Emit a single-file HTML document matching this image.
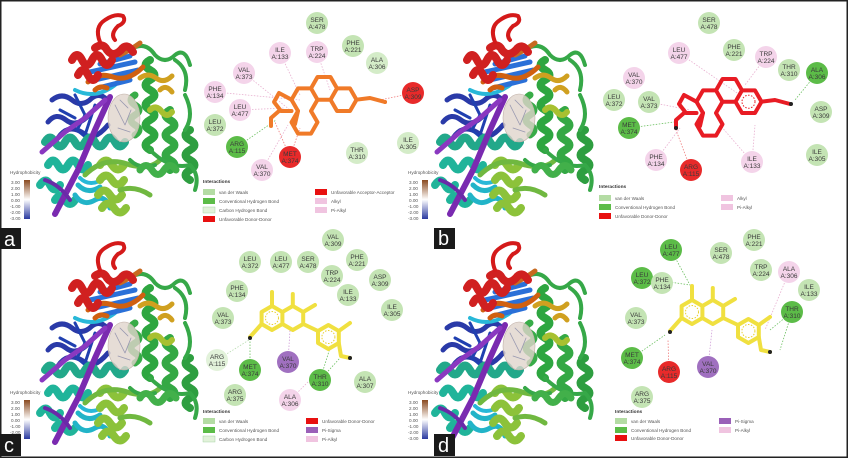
<!DOCTYPE html>
<html><head><meta charset="utf-8"><style>
html,body{margin:0;padding:0;background:#fff}
svg{display:block}
text{font-family:"Liberation Sans",sans-serif}
.r text{font-size:6.5px;fill:#3a3a3a;text-anchor:middle}
.lg{font-size:4.6px;fill:#555}
.lt{font-size:4.8px;font-weight:bold;fill:#333}
.hy{font-size:4.6px;fill:#555}
.dl{stroke-width:0.8;stroke-dasharray:1.5 1.5;fill:none}
</style></head><body>
<svg width="848" height="458" viewBox="0 0 848 458" xmlns="http://www.w3.org/2000/svg">
<defs>
<linearGradient id="hg" x1="0" y1="0" x2="0" y2="1">
<stop offset="0" stop-color="#8a4a20"/><stop offset="0.5" stop-color="#fff"/><stop offset="1" stop-color="#2a3aa0"/></linearGradient>
<g id="prot" fill="none" stroke-linecap="round" stroke-linejoin="round">
 <!-- dark blue left -->
 <path d="M52,100 q10,-8 20,0 q10,8 20,-2 q8,-6 15,2 M48,122 q8,-10 18,-2 q10,8 22,-4 M58,138 q10,-15 25,-5 q10,10 25,-8" stroke="#2a3aa8" stroke-width="5"/>
 <path d="M75,95 l10,20 l-8,15 l12,10 M95,105 l-10,30 M60,110 l15,8" stroke="#2040b0" stroke-width="3"/>
 <!-- teal helices -->
 <path d="M45,142 q5,-9 10,0 q5,9 10,0 q5,-9 10,0 q5,9 10,0 q5,-9 10,0 q5,9 10,0 q5,-9 10,0 q5,9 10,0" stroke="#22a88a" stroke-width="8"/>
 <path d="M48,165 q5,-9 10,0 q5,9 10,0 q5,-9 10,0 q5,9 10,0 M40,185 q6,-9 10,0 q5,9 10,0 M55,200 q5,-8 10,0 q5,8 10,0" stroke="#20b49a" stroke-width="8"/>
 <path d="M75,195 q8,12 20,5 q10,-6 15,8 M78,185 q10,10 22,2" stroke="#22b4c8" stroke-width="5"/>
 <path d="M75,90 q20,10 40,-5 M80,178 q10,10 25,0" stroke="#28b8d8" stroke-width="4"/>
 <!-- purple strands -->
 <path d="M55,214 L78,170 L95,130 L110,97" stroke="#7a2ab0" stroke-width="6"/>
 <path d="M42,152 L65,132 L85,118 L105,100" stroke="#8a38c0" stroke-width="5"/>
 <path d="M45,180 q15,5 25,20" stroke="#6a2aa8" stroke-width="4"/>
 <!-- blue sheet -->
 <path d="M90,72 L135,62 M95,80 L138,70 M98,88 L130,80 M100,64 L130,56" stroke="#2a70d8" stroke-width="5"/>
 <!-- light green bottom -->
 <path d="M100,165 q6,-9 12,0 q6,9 12,0 M100,180 q6,-9 12,0 q6,9 12,0 M98,195 q6,-9 12,0 q6,9 12,0 M102,208 q6,-9 12,0 q6,9 12,0" stroke="#8cc23a" stroke-width="8"/>
 <path d="M85,175 q20,-20 45,-10 q20,5 30,-5 M120,190 q15,-5 30,5" stroke="#70b840" stroke-width="5"/>
 <!-- green right helices -->
 <path d="M150,60 q-9,5 0,10 q9,5 0,10 q-9,5 0,10 q9,5 0,10 q-9,5 0,10 q9,5 0,10 q-9,5 0,10 q9,5 0,10 q-9,5 0,10" stroke="#2ea640" stroke-width="8"/>
 <path d="M170,110 q-9,5 0,10 q9,5 0,10 q-9,5 0,10 q9,5 0,10 q-9,5 0,10 q9,5 0,10" stroke="#34a844" stroke-width="8"/>
 <path d="M190,130 q-9,5 0,10 q9,5 0,10 q-9,5 0,10 q9,5 0,10 q-9,5 0,10" stroke="#2e9e40" stroke-width="8"/>
 <path d="M135,95 q-8,5 0,10 q8,5 0,10 q-8,5 0,10 q8,5 0,10" stroke="#38ac48" stroke-width="7"/>
 <path d="M130,50 q15,-10 25,5 q10,10 20,0 q10,-8 15,10 M175,60 q15,10 10,30 M150,150 q20,20 40,15 q10,10 5,25 M130,160 q10,10 25,5 M185,95 q10,20 0,35" stroke="#36a848" stroke-width="4"/>
 <path d="M140,170 q6,-9 12,0 q6,9 12,0 q6,-9 12,0" stroke="#42b04a" stroke-width="7"/>
 <!-- gold -->
 <path d="M140,78 q8,-6 16,0 q8,6 16,-2 M160,90 q6,-6 12,2" stroke="#d0a020" stroke-width="5"/>
 <path d="M150,110 q6,-6 12,2 q5,6 10,0" stroke="#a8c030" stroke-width="6"/>
 <!-- orange -->
 <path d="M88,82 q10,-10 25,-5 q15,5 30,-10 M95,90 q5,-5 12,-2" stroke="#d06010" stroke-width="5"/>
 <path d="M120,55 q12,-6 20,-12" stroke="#c86a20" stroke-width="5"/>
 <!-- red -->
 <path d="M72,60 q5,-10 10,0 q5,10 10,0 q5,-10 10,0 q5,10 10,0 M78,75 q5,-10 10,0 q5,10 10,0 M95,48 q8,-6 12,2 q6,8 14,0 q6,-8 12,2" stroke="#d02020" stroke-width="8"/>
 <path d="M100,42 q-6,-15 5,-22 q10,-7 18,-4 q4,6 -5,10 q-8,8 -3,14" stroke="#d41a1a" stroke-width="4"/>
 <!-- surface -->
 <ellipse cx="124" cy="118" rx="16" ry="24" fill="#e0d4cc" fill-opacity="0.8" stroke="#c0b0a8" stroke-width="0.6"/>
 <path d="M115,105 l10,20 l6,-15 M118,128 l12,4 M120,100 l8,8" stroke="#9898b0" stroke-width="0.8"/>
</g>
<g id="hyd">
 <text class="hy" x="10" y="174">Hydrophobicity</text>
 <rect x="24" y="180" width="6" height="39" fill="url(#hg)"/>
 <text class="hy" x="11" y="184">3.00</text><text class="hy" x="11" y="190">2.00</text><text class="hy" x="11" y="196">1.00</text><text class="hy" x="11" y="202">0.00</text><text class="hy" x="10" y="208">-1.00</text><text class="hy" x="10" y="214">-2.00</text><text class="hy" x="10" y="220">-3.00</text>
</g>
</defs>
<rect x="0.5" y="0.5" width="847" height="457" fill="#fff" stroke="#222" stroke-width="2"/>

<use href="#prot"/>
<use href="#prot" x="395"/>
<use href="#prot" y="228"/>
<use href="#prot" x="395" y="228"/>
<use href="#hyd"/>
<use href="#hyd" x="398"/>
<use href="#hyd" y="220"/>
<use href="#hyd" x="398" y="220"/>

<g font-size="20" fill="#fff" font-family="Liberation Sans">
<rect x="0" y="228" width="21" height="21" fill="#1a1a1a"/><text x="4" y="246">a</text>
<rect x="434" y="228" width="21" height="21" fill="#1a1a1a"/><text x="438" y="245">b</text>
<rect x="0" y="434" width="21" height="22" fill="#1a1a1a"/><text x="4" y="452">c</text>
<rect x="434" y="434" width="21" height="22" fill="#1a1a1a"/><text x="438" y="452">d</text>
</g>

<!-- ========== PANEL A ========== -->
<g class="dl">
<path d="M237,147 L276,120" stroke="#6cc060"/>
<path d="M290,157 L275,122 M290,157 L300,128" stroke="#f08080"/>
<path d="M413,93 L380,100" stroke="#f08080"/>
<path d="M244,73 L290,110 M215,92 L300,100 M280,53 L300,95 M317,52 L330,90 M240,110 L285,108 M262,170 L288,125" stroke="#e8b0d0"/>
</g>
<g class="r">
<circle cx="317" cy="23" r="11" fill="#c4e4b4"/><text x="317" y="22">SER</text><text x="317" y="29">A:478</text>
<circle cx="280" cy="53" r="11" fill="#f4d4ea"/><text x="280" y="52">ILE</text><text x="280" y="59">A:133</text>
<circle cx="317" cy="52" r="11" fill="#f4d4ea"/><text x="317" y="51">TRP</text><text x="317" y="58">A:224</text>
<circle cx="353" cy="46" r="11" fill="#c4e4b4"/><text x="353" y="45">PHE</text><text x="353" y="52">A:221</text>
<circle cx="377" cy="63" r="11" fill="#d4ecc8"/><text x="377" y="62">ALA</text><text x="377" y="69">A:306</text>
<circle cx="244" cy="73" r="11" fill="#f4d4ea"/><text x="244" y="72">VAL</text><text x="244" y="79">A:373</text>
<circle cx="215" cy="92" r="11" fill="#f4d4ea"/><text x="215" y="91">PHE</text><text x="215" y="98">A:134</text>
<circle cx="413" cy="93" r="11" fill="#e82a2a"/><text x="413" y="92">ASP</text><text x="413" y="99">A:309</text>
<circle cx="240" cy="110" r="11" fill="#f4d4ea"/><text x="240" y="109">LEU</text><text x="240" y="116">A:477</text>
<circle cx="215" cy="125" r="11" fill="#c4e4b4"/><text x="215" y="124">LEU</text><text x="215" y="131">A:372</text>
<circle cx="237" cy="147" r="11" fill="#5cbc48"/><text x="237" y="146">ARG</text><text x="237" y="153">A:115</text>
<circle cx="290" cy="157" r="11" fill="#e82a2a"/><text x="290" y="156">MET</text><text x="290" y="163">A:374</text>
<circle cx="262" cy="170" r="11" fill="#f4d4ea"/><text x="262" y="169">VAL</text><text x="262" y="176">A:370</text>
<circle cx="357" cy="153" r="11" fill="#d4ecc8"/><text x="357" y="152">THR</text><text x="357" y="159">A:310</text>
<circle cx="408" cy="143" r="11" fill="#d4ecc8"/><text x="408" y="142">ILE</text><text x="408" y="149">A:305</text>
</g>
<g fill="none" stroke="#f07a28" stroke-width="4" stroke-linejoin="round" stroke-linecap="round" transform="translate(-405,-2)">
 <path d="M703,113 L696.5,101.7 L703,90.4 L716,90.4 L722.5,101.7 L716,113 L722.5,124.3 L716,135.6 L703,135.6 L696.5,124.3 Z"/>
 <path d="M716,90.4 L722.5,79 L735.5,79 L742,90.4 L735.5,101.7 L722.5,101.7 M742,90.4 L755,90.4 L761.5,101.7 L755,113 L742,113 L735.5,101.7"/>
 <path d="M761.5,101.7 L775,100 L790,104"/>
 <path d="M696.5,101.7 L684,95 L679,104 L686,113 L696.5,113 M684,113 L676,120 L676,128 M703,113 L700,126"/>
</g>
<circle cx="385" cy="102" r="2" fill="#f07a28"/>
<text class="lt" x="203" y="183">Interactions</text>
<g class="lg">
<rect x="203" y="189" width="12" height="6" fill="#b4dca4"/><text x="219" y="194">van der Waals</text>
<rect x="203" y="198" width="12" height="6" fill="#5cbc48"/><text x="219" y="203">Conventional Hydrogen Bond</text>
<rect x="203" y="207" width="12" height="6" fill="#e2f2da" stroke="#9c9" stroke-width="0.4"/><text x="219" y="212">Carbon Hydrogen Bond</text>
<rect x="203" y="216" width="12" height="6" fill="#e81010"/><text x="219" y="221">Unfavorable Donor-Donor</text>
<rect x="315" y="189" width="12" height="6" fill="#e81010"/><text x="331" y="194">Unfavorable Acceptor-Acceptor</text>
<rect x="315" y="198" width="12" height="6" fill="#f0c4e0"/><text x="331" y="203">Alkyl</text>
<rect x="315" y="207" width="12" height="6" fill="#f0c4e0"/><text x="331" y="212">Pi-Alkyl</text>
</g>

<!-- ========== PANEL B ========== -->
<g class="dl">
<path d="M629,128 L674,122" stroke="#6cc060"/>
<path d="M817,73 L795,100" stroke="#6cc060"/>
<path d="M691,170 L676,130" stroke="#f08080"/>
<path d="M679,53 L740,95 M766,57 L745,85 M656,160 L680,128 M752,162 L755,125 M752,162 L720,125 M649,102 L690,110" stroke="#e8b0d0"/>
</g>
<g class="r">
<circle cx="709" cy="23" r="11" fill="#c4e4b4"/><text x="709" y="22">SER</text><text x="709" y="29">A:478</text>
<circle cx="679" cy="53" r="11" fill="#f4d4ea"/><text x="679" y="52">LEU</text><text x="679" y="59">A:477</text>
<circle cx="734" cy="50" r="11" fill="#c4e4b4"/><text x="734" y="49">PHE</text><text x="734" y="56">A:221</text>
<circle cx="766" cy="57" r="11" fill="#f4d4ea"/><text x="766" y="56">TRP</text><text x="766" y="63">A:224</text>
<circle cx="634" cy="78" r="11" fill="#f4d4ea"/><text x="634" y="77">VAL</text><text x="634" y="84">A:370</text>
<circle cx="789" cy="70" r="11" fill="#c4e4b4"/><text x="789" y="69">THR</text><text x="789" y="76">A:310</text>
<circle cx="817" cy="73" r="11" fill="#5cbc48"/><text x="817" y="72">ALA</text><text x="817" y="79">A:306</text>
<circle cx="614" cy="100" r="11" fill="#c4e4b4"/><text x="614" y="99">LEU</text><text x="614" y="106">A:372</text>
<circle cx="649" cy="102" r="11" fill="#c4e4b4"/><text x="649" y="101">VAL</text><text x="649" y="108">A:373</text>
<circle cx="821" cy="112" r="11" fill="#c4e4b4"/><text x="821" y="111">ASP</text><text x="821" y="118">A:309</text>
<circle cx="629" cy="128" r="11" fill="#5cbc48"/><text x="629" y="127">MET</text><text x="629" y="134">A:374</text>
<circle cx="656" cy="160" r="11" fill="#f4d4ea"/><text x="656" y="159">PHE</text><text x="656" y="166">A:134</text>
<circle cx="691" cy="170" r="11" fill="#e82a2a"/><text x="691" y="169">ARG</text><text x="691" y="176">A:115</text>
<circle cx="752" cy="162" r="11" fill="#f4d4ea"/><text x="752" y="161">ILE</text><text x="752" y="168">A:133</text>
<circle cx="817" cy="155" r="11" fill="#c4e4b4"/><text x="817" y="154">ILE</text><text x="817" y="161">A:305</text>
</g>
<g fill="none" stroke="#e81c24" stroke-width="4" stroke-linejoin="round" stroke-linecap="round">
 <path d="M703,113 L696.5,101.7 L703,90.4 L716,90.4 L722.5,101.7 L716,113 L722.5,124.3 L716,135.6 L703,135.6 L696.5,124.3 Z"/>
 <path d="M716,90.4 L722.5,79 L735.5,79 L742,90.4 L735.5,101.7 L722.5,101.7 M742,90.4 L755,90.4 L761.5,101.7 L755,113 L742,113 L735.5,101.7"/>
 <path d="M761.5,101.7 L775,100 L790,104"/>
 <path d="M696.5,101.7 L684,95 L679,104 L686,113 L696.5,113 M684,113 L676,120 L676,128 M703,113 L700,126"/>
</g>
<circle cx="748.5" cy="101.7" r="6.5" fill="none" stroke="#e81c24" stroke-width="1" stroke-dasharray="1.5 1.5"/>
<circle cx="676" cy="128" r="2" fill="#222"/><circle cx="791" cy="104" r="2" fill="#222"/>
<text class="lt" x="599" y="188">Interactions</text>
<g class="lg">
<rect x="599" y="195" width="12" height="6" fill="#b4dca4"/><text x="615" y="200">van der Waals</text>
<rect x="599" y="204" width="12" height="6" fill="#5cbc48"/><text x="615" y="209">Conventional Hydrogen Bond</text>
<rect x="599" y="213" width="12" height="6" fill="#e81010"/><text x="615" y="218">Unfavorable Donor-Donor</text>
<rect x="721" y="195" width="12" height="6" fill="#f0c4e0"/><text x="737" y="200">Alkyl</text>
<rect x="721" y="204" width="12" height="6" fill="#f0c4e0"/><text x="737" y="209">Pi-Alkyl</text>
</g>

<!-- ========== PANEL C ========== -->
<g class="dl">
<path d="M250,370 L250,340 M320,380 L340,358 M320,380 L330,348" stroke="#6cc060"/>
<path d="M217,360 L249,340" stroke="#b8dcb0"/>
<path d="M288,362 L290,330" stroke="#d0a0d8"/>
<path d="M290,400 L318,372" stroke="#e8b0d0"/>
</g>
<g class="r">
<circle cx="333" cy="240" r="11" fill="#c4e4b4"/><text x="333" y="239">VAL</text><text x="333" y="246">A:309</text>
<circle cx="250" cy="262" r="11" fill="#c4e4b4"/><text x="250" y="261">LEU</text><text x="250" y="268">A:372</text>
<circle cx="281" cy="262" r="11" fill="#c4e4b4"/><text x="281" y="261">LEU</text><text x="281" y="268">A:477</text>
<circle cx="308" cy="262" r="11" fill="#c4e4b4"/><text x="308" y="261">SER</text><text x="308" y="268">A:478</text>
<circle cx="357" cy="260" r="11" fill="#c4e4b4"/><text x="357" y="259">PHE</text><text x="357" y="266">A:221</text>
<circle cx="332" cy="276" r="11" fill="#c4e4b4"/><text x="332" y="275">TRP</text><text x="332" y="282">A:224</text>
<circle cx="380" cy="280" r="11" fill="#c4e4b4"/><text x="380" y="279">ASP</text><text x="380" y="286">A:309</text>
<circle cx="237" cy="291" r="11" fill="#c4e4b4"/><text x="237" y="290">PHE</text><text x="237" y="297">A:134</text>
<circle cx="348" cy="295" r="11" fill="#c4e4b4"/><text x="348" y="294">ILE</text><text x="348" y="301">A:133</text>
<circle cx="392" cy="310" r="11" fill="#c4e4b4"/><text x="392" y="309">ILE</text><text x="392" y="316">A:305</text>
<circle cx="223" cy="318" r="11" fill="#c4e4b4"/><text x="223" y="317">VAL</text><text x="223" y="324">A:373</text>
<circle cx="217" cy="360" r="11" fill="#e2f2da"/><text x="217" y="359">ARG</text><text x="217" y="366">A:115</text>
<circle cx="250" cy="370" r="11" fill="#5cbc48"/><text x="250" y="369">MET</text><text x="250" y="376">A:374</text>
<circle cx="288" cy="362" r="11" fill="#a070c0"/><text x="288" y="361">VAL</text><text x="288" y="368">A:370</text>
<circle cx="320" cy="380" r="11" fill="#5cbc48"/><text x="320" y="379">THR</text><text x="320" y="386">A:310</text>
<circle cx="365" cy="382" r="11" fill="#c4e4b4"/><text x="365" y="381">ALA</text><text x="365" y="388">A:307</text>
<circle cx="235" cy="395" r="11" fill="#c4e4b4"/><text x="235" y="394">ARG</text><text x="235" y="401">A:375</text>
<circle cx="290" cy="400" r="11" fill="#f4d4ea"/><text x="290" y="399">ALA</text><text x="290" y="406">A:306</text>
</g>
<g id="flav">
<g fill="none" stroke="#f0e040" stroke-width="4" stroke-linejoin="round" stroke-linecap="round">
 <path d="M272,306 L282.4,312 L282.4,324 L272,330 L261.6,324 L261.6,312 Z"/>
 <path d="M282.4,312 L292.8,306 L303.2,312 L303.2,324 L292.8,330 L282.4,324"/>
 <path d="M328.4,325 L338.8,331 L338.8,343 L328.4,349 L318,343 L318,331 Z"/>
 <path d="M272,306 L272,292 M292.8,306 L292.8,294 M303.2,312 L315,305 M303.2,324 L318,331 M261.6,324 L250,337 M338.8,331 L350,323 M338.8,343 L341,356 L350,358"/>
</g>
<g fill="none" stroke="#e8d030" stroke-width="1" stroke-dasharray="1.5 1.5">
 <circle cx="272" cy="318" r="6.5"/><circle cx="328.4" cy="337" r="6.5"/>
</g>
<circle cx="250" cy="338" r="2" fill="#222"/><circle cx="350" cy="358" r="2" fill="#222"/>
</g>
<text class="lt" x="203" y="413">Interactions</text>
<g class="lg">
<rect x="203" y="418" width="12" height="6" fill="#b4dca4"/><text x="219" y="423">van der Waals</text>
<rect x="203" y="427" width="12" height="6" fill="#5cbc48"/><text x="219" y="432">Conventional Hydrogen Bond</text>
<rect x="203" y="436" width="12" height="6" fill="#e2f2da" stroke="#9c9" stroke-width="0.4"/><text x="219" y="441">Carbon Hydrogen Bond</text>
<rect x="306" y="418" width="12" height="6" fill="#e81010"/><text x="322" y="423">Unfavorable Donor-Donor</text>
<rect x="306" y="427" width="12" height="6" fill="#9a60b8"/><text x="322" y="432">Pi-Sigma</text>
<rect x="306" y="436" width="12" height="6" fill="#f0c4e0"/><text x="322" y="441">Pi-Alkyl</text>
</g>

<!-- ========== PANEL D ========== -->
<g class="dl">
<path d="M671,250 L690,285 M642,278 L690,285 M632,358 L665,335 M792,312 L770,330 M792,312 L780,350" stroke="#6cc060"/>
<path d="M669,372 L668,340" stroke="#f08080"/>
<path d="M708,367 L712,330" stroke="#d0a0d8"/>
<path d="M789,272 L765,330" stroke="#e8b0d0"/>
</g>
<g class="r">
<circle cx="754" cy="240" r="11" fill="#c4e4b4"/><text x="754" y="239">PHE</text><text x="754" y="246">A:221</text>
<circle cx="671" cy="250" r="11" fill="#5cbc48"/><text x="671" y="249">LEU</text><text x="671" y="256">A:477</text>
<circle cx="721" cy="253" r="11" fill="#c4e4b4"/><text x="721" y="252">SER</text><text x="721" y="259">A:478</text>
<circle cx="761" cy="270" r="11" fill="#c4e4b4"/><text x="761" y="269">TRP</text><text x="761" y="276">A:224</text>
<circle cx="642" cy="278" r="11" fill="#5cbc48"/><text x="642" y="277">LEU</text><text x="642" y="284">A:372</text>
<circle cx="662" cy="283" r="11" fill="#c4e4b4"/><text x="662" y="282">PHE</text><text x="662" y="289">A:134</text>
<circle cx="789" cy="272" r="11" fill="#f4d4ea"/><text x="789" y="271">ALA</text><text x="789" y="278">A:306</text>
<circle cx="809" cy="290" r="11" fill="#c4e4b4"/><text x="809" y="289">ILE</text><text x="809" y="296">A:133</text>
<circle cx="792" cy="312" r="11" fill="#5cbc48"/><text x="792" y="311">THR</text><text x="792" y="318">A:310</text>
<circle cx="636" cy="318" r="11" fill="#c4e4b4"/><text x="636" y="317">VAL</text><text x="636" y="324">A:373</text>
<circle cx="632" cy="358" r="11" fill="#5cbc48"/><text x="632" y="357">MET</text><text x="632" y="364">A:374</text>
<circle cx="669" cy="372" r="11" fill="#e82a2a"/><text x="669" y="371">ARG</text><text x="669" y="378">A:115</text>
<circle cx="708" cy="367" r="11" fill="#a070c0"/><text x="708" y="366">VAL</text><text x="708" y="373">A:370</text>
<circle cx="642" cy="397" r="11" fill="#c4e4b4"/><text x="642" y="396">ARG</text><text x="642" y="403">A:375</text>
</g>
<use href="#flav" x="420" y="-6"/>
<text class="lt" x="615" y="413">Interactions</text>
<g class="lg">
<rect x="615" y="418" width="12" height="6" fill="#b4dca4"/><text x="631" y="423">van der Waals</text>
<rect x="615" y="427" width="12" height="6" fill="#5cbc48"/><text x="631" y="432">Conventional Hydrogen Bond</text>
<rect x="615" y="435" width="12" height="6" fill="#e81010"/><text x="631" y="440">Unfavorable Donor-Donor</text>
<rect x="719" y="418" width="12" height="6" fill="#9a60b8"/><text x="735" y="423">Pi-Sigma</text>
<rect x="719" y="427" width="12" height="6" fill="#f0c4e0"/><text x="735" y="432">Pi-Alkyl</text>
</g>
</svg>
</body></html>
